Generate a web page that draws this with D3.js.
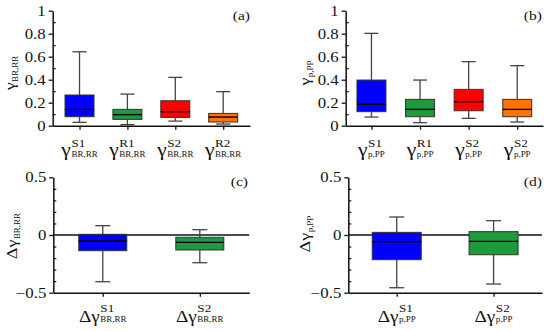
<!DOCTYPE html>
<html><head><meta charset="utf-8">
<script src="https://cdn.jsdelivr.net/npm/d3@7"></script>
<style>
body{margin:0;background:#fff;}
svg{display:block;}
text{font-family:"Liberation Serif","Times New Roman",serif;fill:#111;}
</style></head>
<body>
<svg id="chart" width="550" height="331"></svg>
<script>
// ---------- data ----------
const catsA = ["S1","R1","S2","R2"];
const minA = [0.029,0.009,0.040,0.014];
const q1A  = [0.078,0.055,0.072,0.032];
const medA = [0.142,0.096,0.122,0.075];
const q3A  = [0.267,0.142,0.217,0.107];
const maxA = [0.643,0.275,0.420,0.296];

const catsB = ["S1","R1","S2","S2"];
const minB = [0.075,0.026,0.064,0.032];
const q1B  = [0.122,0.078,0.130,0.078];
const medB = [0.186,0.142,0.209,0.142];
const q3B  = [0.397,0.229,0.316,0.229];
const maxB = [0.803,0.397,0.557,0.522];

const catsC = ["S1","S2"];
const minC = [-0.405,-0.240];
const q1C  = [-0.136,-0.130];
const medC = [-0.052,-0.064];
const q3C  = [0.006,-0.020];
const maxC = [0.081,0.046];

const catsD = ["S1","S2"];
const minD = [-0.457,-0.425];
const q1D  = [-0.214,-0.171];
const medD = [-0.058,-0.055];
const q3D  = [0.023,0.029];
const maxD = [0.156,0.124];

const ticksAB = [0,0.2,0.4,0.6,0.8,1];
const tickLabelsAB = ["0","0.2","0.4","0.6","0.8","1"];
const minorAB = [0.1,0.3,0.5,0.7,0.9];
const ticksCD = [-0.5,0,0.5];
const tickLabelsCD = ["\u22120.5","0","0.5"];
const minorCD = [-0.4,-0.3,-0.2,-0.1,0.1,0.2,0.3,0.4];

const colors4 = ["#0000ff","#1c9a3c","#ff0000","#ff7200"];
const colors2 = ["#0000ff","#1c9a3c"];

// ---------- layout ----------
const S = 1.2; // horizontal glyph stretch
const svg = d3.select("#chart");

const panels = [
  {cats:catsA,min:minA,q1:q1A,med:medA,q3:q3A,max:maxA,colors:colors4,
   x0:52.7,x1:250,yTop:10.7,yBot:125.7,domain:[0,1],ticks:ticksAB,tickLabels:tickLabelsAB,minor:minorAB,
   pad:0.56,boxW:29,capW:14,prefix:"\u03b3",sub:"BR,RR",tag:"(a)",tagX:250,tagY:20,
   titleX:15,titleY:73,catMain:18,catSupDy:20.8,catMainDy:30.3,catSubDy:31.6,zero:false},
  {cats:catsB,min:minB,q1:q1B,med:medB,q3:q3B,max:maxB,colors:colors4,
   x0:345.7,x1:543,yTop:10.7,yBot:125.7,domain:[0,1],ticks:ticksAB,tickLabels:tickLabelsAB,minor:minorAB,
   pad:0.53,boxW:29,capW:14,prefix:"\u03b3",sub:"p,PP",tag:"(b)",tagX:542,tagY:20,
   titleX:309.5,titleY:73,catMain:18,catSupDy:20.8,catMainDy:30.3,catSubDy:31.6,zero:false},
  {cats:catsC,min:minC,q1:q1C,med:medC,q3:q3C,max:maxC,colors:colors2,
   x0:53.3,x1:249.3,yTop:177.3,yBot:292.7,domain:[-0.5,0.5],ticks:ticksCD,tickLabels:tickLabelsCD,minor:minorCD,
   pad:0.51,boxW:48,capW:15,prefix:"\u0394\u03b3",sub:"BR,RR",tag:"(c)",tagX:248,tagY:186,
   titleX:17,titleY:236,catMain:16,catSupDy:19,catMainDy:29,catSubDy:29,zero:true},
  {cats:catsD,min:minD,q1:q1D,med:medD,q3:q3D,max:maxD,colors:colors2,
   x0:348.3,x1:542,yTop:177.3,yBot:292.7,domain:[-0.5,0.5],ticks:ticksCD,tickLabels:tickLabelsCD,minor:minorCD,
   pad:0.5,boxW:49,capW:15,prefix:"\u0394\u03b3",sub:"p,PP",tag:"(d)",tagX:542,tagY:186,
   titleX:310,titleY:234,catMain:16,catSupDy:19,catMainDy:29,catSubDy:29,zero:true}
];

function measure(str, size){
  const t = svg.append("text").attr("font-size", size).text(str);
  const w = t.node().getComputedTextLength();
  t.remove();
  return w * S;
}

// composite label: main + (sup stacked over sub)
function compositeLabel(g, rot, ax, ay, cx, mainY, supY, subY, main, sup, sub, mainSize, supSize, subSize){
  const mw = measure(main, mainSize);
  const supW = sup ? measure(sup, supSize) : 0;
  const subW = measure(sub, subSize);
  const total = mw + 0.5 + Math.max(supW, subW);
  const left = cx - total/2;
  const put = (str, ox, oy, size) => {
    // local (ox,oy) with horizontal stretch; if rot, rotate -90 about anchor (ax,ay)
    const m = rot
      ? `matrix(0,${-S},1,0,${ax + oy},${ay - ox})`
      : `matrix(${S},0,0,1,${ax + ox},${ay + oy})`;
    g.append("text").attr("transform", m).attr("font-size", size).text(str);
  };
  put(main, left, mainY, mainSize);
  if (sup) put(sup, left + mw + 0.5, supY, supSize);
  put(sub, left + mw + 0.5, subY, subSize);
}

panels.forEach(p => {
  const g = svg.append("g");
  const idx = d3.range(p.cats.length);
  const x = d3.scalePoint().domain(idx).range([p.x0, p.x1]).padding(p.pad);
  const y = d3.scaleLinear().domain(p.domain).range([p.yBot, p.yTop]);

  if (p.zero){
    g.append("line").attr("x1",p.x0).attr("x2",p.x1)
      .attr("y1",y(0)).attr("y2",y(0))
      .attr("stroke","#111").attr("stroke-width",1.3);
  }

  const bw = g.append("g");
  idx.forEach(i => {
    const cx = x(i);
    const wl = (x1,x2,y1,y2) => bw.append("line").attr("x1",x1).attr("x2",x2).attr("y1",y1).attr("y2",y2)
      .attr("stroke","#444").attr("stroke-width",1.3);
    wl(cx,cx,y(p.q3[i]),y(p.max[i]));
    wl(cx,cx,y(p.q1[i]),y(p.min[i]));
    wl(cx-p.capW/2,cx+p.capW/2,y(p.max[i]),y(p.max[i]));
    wl(cx-p.capW/2,cx+p.capW/2,y(p.min[i]),y(p.min[i]));
    bw.append("rect").attr("x",cx-p.boxW/2).attr("width",p.boxW)
      .attr("y",y(p.q3[i])).attr("height",y(p.q1[i])-y(p.q3[i]))
      .attr("fill",p.colors[i]).attr("stroke","#333").attr("stroke-width",1);
    bw.append("line").attr("x1",cx-p.boxW/2).attr("x2",cx+p.boxW/2).attr("y1",y(p.med[i])).attr("y2",y(p.med[i]))
      .attr("stroke","#000").attr("stroke-width",1.4);
  });

  const ya = g.append("g").attr("transform",`translate(${p.x0},0)`)
    .call(d3.axisLeft(y).tickValues(p.ticks).tickSize(4).tickSizeOuter(0)
      .tickFormat((d,i)=>p.tickLabels[i]));
  ya.attr("font-size",14).attr("font-family","Liberation Serif, serif");
  ya.select(".domain").attr("stroke","#111").attr("stroke-width",1.5);
  ya.selectAll(".tick line").attr("stroke","#111").attr("stroke-width",1.3);
  ya.selectAll(".tick text")
    .attr("font-size",14).attr("fill","#111")
    .attr("x", -7/S).attr("transform",`scale(${S},1)`);
  const ym = g.append("g").attr("transform",`translate(${p.x0},0)`)
    .call(d3.axisRight(y).tickValues(p.minor).tickSize(3).tickSizeOuter(0).tickFormat(""));
  ym.select(".domain").remove();
  ym.selectAll(".tick line").attr("stroke","#111").attr("stroke-width",1.2);

  const xa = g.append("g").attr("transform",`translate(0,${p.yBot})`)
    .call(d3.axisBottom(x).tickSize(4).tickSizeOuter(0).tickFormat(""));
  xa.select(".domain").attr("stroke","#111").attr("stroke-width",1.5);
  xa.selectAll(".tick line").attr("stroke","#111").attr("stroke-width",1.3);

  idx.forEach(i => {
    compositeLabel(g, false, 0, 0, x(i), p.yBot+p.catMainDy, p.yBot+p.catSupDy, p.yBot+p.catSubDy,
      p.prefix, p.cats[i], p.sub, p.catMain, 11, 7.5);
  });

  compositeLabel(g, true, p.titleX, p.titleY, 0, 0, 0, 3,
    p.prefix, null, p.sub, 15, 0, 7.5);

  g.append("text")
    .attr("transform", `matrix(${S},0,0,1,${p.tagX},${p.tagY})`)
    .attr("font-size", 13).attr("text-anchor","end").text(p.tag);
});
</script>
</body></html>
